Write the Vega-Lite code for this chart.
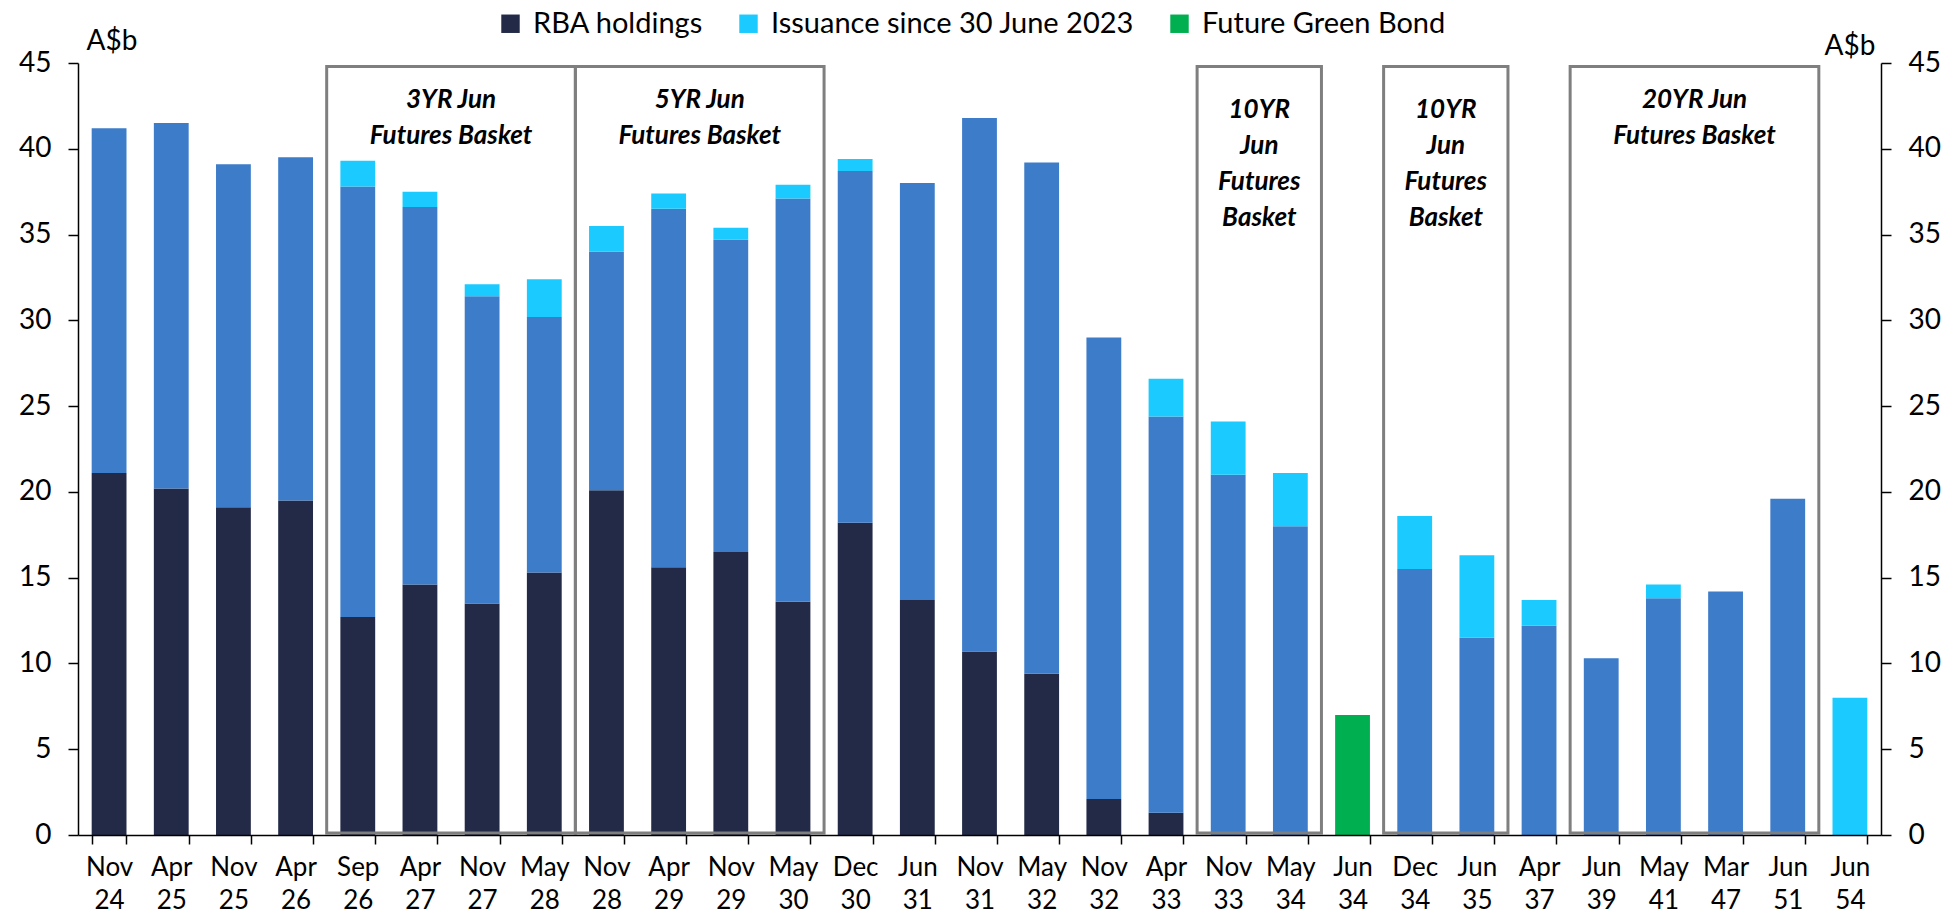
{
  "$schema": "https://vega.github.io/schema/vega-lite/v6.json",
  "autosize": {"type": "none"},
  "width": 1803,
  "height": 772,
  "padding": {"left": 78, "top": 63, "right": 78, "bottom": 81},
  "background": "white",
  "config": {
    "font": "Lato",
    "view": {"stroke": null},
    "axis": {"grid": false, "domainColor": "#000000", "tickColor": "#000000", "labelColor": "#000000", "titleColor": "#000000", "domainWidth": 1.5, "tickWidth": 1.5}
  },
  "datasets": {
    "bars": [
      {"bond": "Nov 24", "series": "RBA holdings", "value": 21.1},
      {"bond": "Nov 24", "series": "Non-RBA holdings", "value": 20.1},
      {"bond": "Apr 25", "series": "RBA holdings", "value": 20.2},
      {"bond": "Apr 25", "series": "Non-RBA holdings", "value": 21.3},
      {"bond": "Nov 25", "series": "RBA holdings", "value": 19.1},
      {"bond": "Nov 25", "series": "Non-RBA holdings", "value": 20.0},
      {"bond": "Apr 26", "series": "RBA holdings", "value": 19.5},
      {"bond": "Apr 26", "series": "Non-RBA holdings", "value": 20.0},
      {"bond": "Sep 26", "series": "RBA holdings", "value": 12.7},
      {"bond": "Sep 26", "series": "Non-RBA holdings", "value": 25.1},
      {"bond": "Sep 26", "series": "Issuance since 30 June 2023", "value": 1.5},
      {"bond": "Apr 27", "series": "RBA holdings", "value": 14.6},
      {"bond": "Apr 27", "series": "Non-RBA holdings", "value": 22.0},
      {"bond": "Apr 27", "series": "Issuance since 30 June 2023", "value": 0.9},
      {"bond": "Nov 27", "series": "RBA holdings", "value": 13.5},
      {"bond": "Nov 27", "series": "Non-RBA holdings", "value": 17.9},
      {"bond": "Nov 27", "series": "Issuance since 30 June 2023", "value": 0.7},
      {"bond": "May 28", "series": "RBA holdings", "value": 15.3},
      {"bond": "May 28", "series": "Non-RBA holdings", "value": 14.9},
      {"bond": "May 28", "series": "Issuance since 30 June 2023", "value": 2.2},
      {"bond": "Nov 28", "series": "RBA holdings", "value": 20.1},
      {"bond": "Nov 28", "series": "Non-RBA holdings", "value": 13.9},
      {"bond": "Nov 28", "series": "Issuance since 30 June 2023", "value": 1.5},
      {"bond": "Apr 29", "series": "RBA holdings", "value": 15.6},
      {"bond": "Apr 29", "series": "Non-RBA holdings", "value": 20.9},
      {"bond": "Apr 29", "series": "Issuance since 30 June 2023", "value": 0.9},
      {"bond": "Nov 29", "series": "RBA holdings", "value": 16.5},
      {"bond": "Nov 29", "series": "Non-RBA holdings", "value": 18.2},
      {"bond": "Nov 29", "series": "Issuance since 30 June 2023", "value": 0.7},
      {"bond": "May 30", "series": "RBA holdings", "value": 13.6},
      {"bond": "May 30", "series": "Non-RBA holdings", "value": 23.5},
      {"bond": "May 30", "series": "Issuance since 30 June 2023", "value": 0.8},
      {"bond": "Dec 30", "series": "RBA holdings", "value": 18.2},
      {"bond": "Dec 30", "series": "Non-RBA holdings", "value": 20.5},
      {"bond": "Dec 30", "series": "Issuance since 30 June 2023", "value": 0.7},
      {"bond": "Jun 31", "series": "RBA holdings", "value": 13.7},
      {"bond": "Jun 31", "series": "Non-RBA holdings", "value": 24.3},
      {"bond": "Nov 31", "series": "RBA holdings", "value": 10.7},
      {"bond": "Nov 31", "series": "Non-RBA holdings", "value": 31.1},
      {"bond": "May 32", "series": "RBA holdings", "value": 9.4},
      {"bond": "May 32", "series": "Non-RBA holdings", "value": 29.8},
      {"bond": "Nov 32", "series": "RBA holdings", "value": 2.1},
      {"bond": "Nov 32", "series": "Non-RBA holdings", "value": 26.9},
      {"bond": "Apr 33", "series": "RBA holdings", "value": 1.3},
      {"bond": "Apr 33", "series": "Non-RBA holdings", "value": 23.1},
      {"bond": "Apr 33", "series": "Issuance since 30 June 2023", "value": 2.2},
      {"bond": "Nov 33", "series": "Non-RBA holdings", "value": 21.0},
      {"bond": "Nov 33", "series": "Issuance since 30 June 2023", "value": 3.1},
      {"bond": "May 34", "series": "Non-RBA holdings", "value": 18.0},
      {"bond": "May 34", "series": "Issuance since 30 June 2023", "value": 3.1},
      {"bond": "Jun 34", "series": "Future Green Bond", "value": 7.0},
      {"bond": "Dec 34", "series": "Non-RBA holdings", "value": 15.5},
      {"bond": "Dec 34", "series": "Issuance since 30 June 2023", "value": 3.1},
      {"bond": "Jun 35", "series": "Non-RBA holdings", "value": 11.5},
      {"bond": "Jun 35", "series": "Issuance since 30 June 2023", "value": 4.8},
      {"bond": "Apr 37", "series": "Non-RBA holdings", "value": 12.2},
      {"bond": "Apr 37", "series": "Issuance since 30 June 2023", "value": 1.5},
      {"bond": "Jun 39", "series": "Non-RBA holdings", "value": 10.3},
      {"bond": "May 41", "series": "Non-RBA holdings", "value": 13.8},
      {"bond": "May 41", "series": "Issuance since 30 June 2023", "value": 0.8},
      {"bond": "Mar 47", "series": "Non-RBA holdings", "value": 14.2},
      {"bond": "Jun 51", "series": "Non-RBA holdings", "value": 19.6},
      {"bond": "Jun 54", "series": "Issuance since 30 June 2023", "value": 8.0}
    ],
    "boxes": [
      {"start": 4, "end": 8, "label": "3YR Jun\nFutures Basket", "lines": 2},
      {"start": 8, "end": 12, "label": "5YR Jun\nFutures Basket", "lines": 2},
      {"start": 18, "end": 20, "label": "10YR\nJun\nFutures\nBasket", "lines": 4},
      {"start": 21, "end": 23, "label": "10YR\nJun\nFutures\nBasket", "lines": 4},
      {"start": 24, "end": 28, "label": "20YR Jun\nFutures Basket", "lines": 2}
    ]
  },
  "resolve": {"scale": {"x": "independent"}, "axis": {"y": "independent", "x": "independent"}},
  "layer": [
    {
      "data": {"name": "bars"},
      "mark": {"type": "bar"},
      "encoding": {
        "x": {
          "field": "bond", "type": "nominal", "sort": null,
          "scale": {"paddingInner": 0.44, "paddingOuter": 0.22},
          "axis": {
            "title": null, "labelAngle": 0, "labelExpr": "split(datum.label, ' ')",
            "labelFontSize": 26, "labelLineHeight": 33, "labelPadding": 10,
            "tickBand": "extent", "tickSize": 9, "labelOverlap": false, "labelBound": false, "zindex": 1
          }
        },
        "y": {
          "field": "value", "type": "quantitative", "stack": "zero",
          "scale": {"domain": [0, 45], "nice": false},
          "axis": {
            "orient": "left", "values": [0, 5, 10, 15, 20, 25, 30, 35, 40, 45],
            "labelFontSize": 28, "labelPadding": 17, "tickSize": 10,
            "title": "A$b", "titleAngle": 0, "titleX": 8, "titleY": -22,
            "titleAlign": "left", "titleBaseline": "middle", "titleFontSize": 28, "titleFontWeight": "normal"
          }
        },
        "color": {
          "field": "series", "type": "nominal",
          "scale": {
            "domain": ["RBA holdings", "Non-RBA holdings", "Issuance since 30 June 2023", "Future Green Bond"],
            "range": ["#222A47", "#3D7CC9", "#1BCBFF", "#00B050"]
          },
          "legend": {
            "values": ["RBA holdings", "Issuance since 30 June 2023", "Future Green Bond"],
            "orient": "none", "direction": "horizontal", "legendX": 418, "legendY": -54,
            "title": null, "symbolType": "square", "symbolSize": 340, "symbolStrokeWidth": 0,
            "labelFontSize": 29, "labelColor": "#000000", "labelOffset": 8, "columnPadding": 30, "labelLimit": 700
          }
        },
        "order": {"field": "series", "sort": "descending"}
      }
    },
    {
      "data": {"name": "boxes"},
      "mark": {"type": "rect", "fill": null, "fillOpacity": 0, "stroke": "#7F7F7F", "strokeWidth": 3},
      "encoding": {
        "x": {"field": "start", "type": "quantitative", "scale": {"domain": [0, 29], "nice": false, "zero": false}, "axis": null},
        "x2": {"field": "end"},
        "y": {"datum": 44.8, "type": "quantitative",
          "axis": {
            "orient": "right", "values": [0, 5, 10, 15, 20, 25, 30, 35, 40, 45],
            "labelFontSize": 28, "labelPadding": 17, "tickSize": 10,
            "title": "A$b", "titleAngle": 0, "titleX": -6, "titleY": -17,
            "titleAlign": "right", "titleBaseline": "middle", "titleFontSize": 28, "titleFontWeight": "normal"
          }
        },
        "y2": {"datum": 0.12}
      }
    },
    {
      "data": {"name": "boxes"},
      "transform": [{"filter": "datum.lines == 2"}, {"calculate": "(datum.start + datum.end) / 2", "as": "mid"}],
      "mark": {"type": "text", "lineBreak": "\n", "lineHeight": 36, "fontSize": 26, "fontStyle": "italic", "fontWeight": "bold", "baseline": "top", "align": "center", "color": "#000000"},
      "encoding": {
        "x": {"field": "mid", "type": "quantitative", "scale": {"domain": [0, 29], "nice": false, "zero": false}, "axis": null},
        "y": {"datum": 43.6, "type": "quantitative", "axis": null},
        "text": {"field": "label"}
      }
    },
    {
      "data": {"name": "boxes"},
      "transform": [{"filter": "datum.lines == 4"}, {"calculate": "(datum.start + datum.end) / 2", "as": "mid"}],
      "mark": {"type": "text", "lineBreak": "\n", "lineHeight": 36, "fontSize": 26, "fontStyle": "italic", "fontWeight": "bold", "baseline": "top", "align": "center", "color": "#000000"},
      "encoding": {
        "x": {"field": "mid", "type": "quantitative", "scale": {"domain": [0, 29], "nice": false, "zero": false}, "axis": null},
        "y": {"datum": 43.0, "type": "quantitative", "axis": null},
        "text": {"field": "label"}
      }
    }
  ]
}
